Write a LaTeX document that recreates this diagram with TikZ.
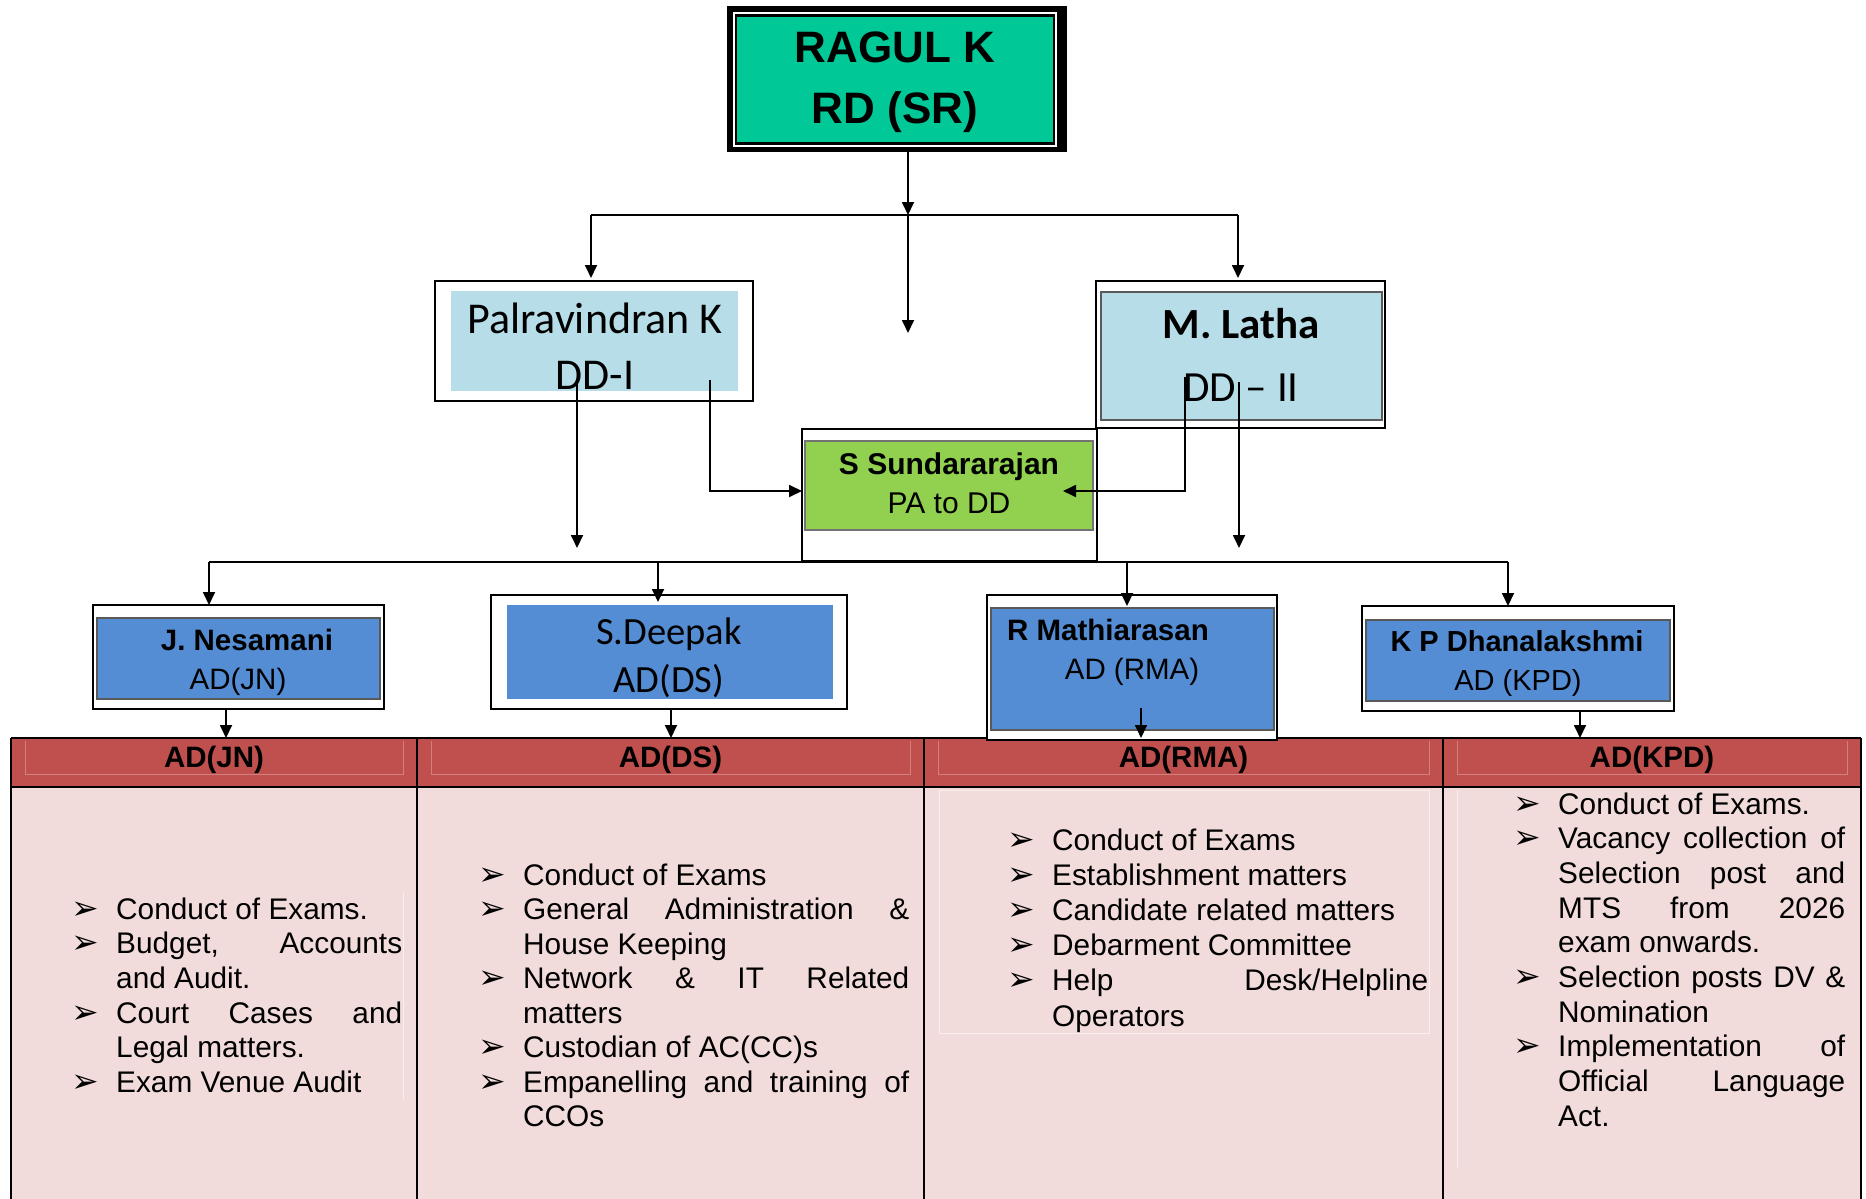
\documentclass[tikz,border=0pt]{standalone}
\usepackage{fontspec}
\setmainfont{Liberation Sans}
\newfontfamily\calfont{Carlito}
\newfontfamily\dvfont{DejaVu Sans}
\usetikzlibrary{arrows.meta}
\definecolor{rdteal}{RGB}{0,200,150}
\definecolor{ddblue}{RGB}{183,221,232}
\definecolor{pagreen}{RGB}{146,208,80}
\definecolor{adblue}{RGB}{84,141,212}
\definecolor{hdred}{RGB}{192,80,77}
\definecolor{bodypink}{RGB}{242,220,219}
\newcommand\rectnode[6]{\node[#1, inner sep=0pt, outer sep=0pt, minimum width={(#5-#3)*1pt}, minimum height={(#6-#4)*1pt}] (#2) at ({(#3+#5)/2},{(#4+#6)/2}) {};}
\newcommand\bul{\llap{\makebox[45pt][l]{\dvfont\fontsize{33}{33}\selectfont ➢}}}
\newcommand\jl[2]{\makebox[#1pt][s]{#2}}
\tikzset{
  outerbox/.style={fill=white, draw=black, line width=2.2pt},
  conn/.style={line width=1.8pt, draw=black},
  arr/.style={conn, -{Triangle[length=13pt,width=12pt]}},
  txt/.style={anchor=base, inner sep=0pt},
  rdfont/.style={txt, font=\bfseries\fontsize{44}{44}\selectfont},
  calreg/.style={txt, font=\calfont\fontsize{#1}{#1}\selectfont},
  calbold/.style={txt, font=\calfont\bfseries\fontsize{#1}{#1}\selectfont},
  arbold/.style={txt, font=\bfseries\fontsize{29.5}{30}\selectfont},
  arreg/.style={txt, font=\fontsize{29.5}{30}\selectfont},
  bodytxt/.style={anchor=base west, inner sep=0pt, font=\fontsize{29.8}{34}\selectfont},
  faint/.style={draw=hdred!72!white, line width=0.8pt},
  faintb/.style={draw=white!55!bodypink, line width=0.8pt}
}
\begin{document}
\begin{tikzpicture}[x=1pt,y=-1pt]
\useasboundingbox (0,0) rectangle (1866,1199);
\fill[white] (0,0) rectangle (1866,1199);

% ---------- table ----------
\rectnode{fill=hdred}{hdrow}{11}{738}{1861}{787}
\rectnode{fill=bodypink}{bodyrow}{11}{787}{1861}{1199}
\rectnode{}{cjn}{11}{738}{417}{787}
\rectnode{}{cds}{417}{738}{924}{787}
\rectnode{}{crma}{924}{738}{1443}{787}
\rectnode{}{ckpd}{1443}{738}{1861}{787}
\foreach \cl/\cr in {11/417, 417/924, 924/1443, 1443/1861}{
  \draw[faint] ({\cl+14},741) -- ({\cl+14},774) -- ({\cr-14},774) -- ({\cr-14},741);
}
\draw[faintb] (403,892) -- (403,1100);
\draw[faintb] (939,790) rectangle (1429,1033);
\draw[faintb] (1457,790) -- (1457,1168);
\draw[line width=2.5pt] (11,738) -- (1861,738);
\draw[line width=2.5pt] (11,787) -- (1861,787);
\foreach \cx in {11,417,924,1443,1861}{
  \draw[line width=2pt] (\cx,738) -- (\cx,1199);
}
\node[arbold] (hjn) at (214,767) {AD(JN)};
\node[arbold] (hds) at (670.5,767) {AD(DS)};
\node[arbold] (hrma) at (1183.5,767) {AD(RMA)};
\node[arbold] (hkpd) at (1652,767) {AD(KPD)};

% column 1
\node[bodytxt] (a1) at (116,919) {\bul Conduct of Exams.};
\node[bodytxt] (a2) at (116,953.7) {\bul\jl{286}{Budget, Accounts}};
\node[bodytxt] (a3) at (116,988.4) {and Audit.};
\node[bodytxt] (a4) at (116,1023.1) {\bul\jl{286}{Court Cases and}};
\node[bodytxt] (a5) at (116,1057.8) {Legal matters.};
\node[bodytxt] (a6) at (116,1092.5) {\bul Exam Venue Audit};
% column 2
\node[bodytxt] (b1) at (523,885) {\bul Conduct of Exams};
\node[bodytxt] (b2) at (523,919.5) {\bul\jl{386}{General Administration \&}};
\node[bodytxt] (b3) at (523,954) {House Keeping};
\node[bodytxt] (b4) at (523,988.5) {\bul\jl{386}{Network \& IT Related}};
\node[bodytxt] (b5) at (523,1023) {matters};
\node[bodytxt] (b6) at (523,1057.5) {\bul Custodian of AC(CC)s};
\node[bodytxt] (b7) at (523,1092) {\bul\jl{386}{Empanelling and training of}};
\node[bodytxt] (b8) at (523,1126.5) {CCOs};
% column 3
\node[bodytxt] (c1) at (1052,850) {\bul Conduct of Exams};
\node[bodytxt] (c2) at (1052,885.2) {\bul Establishment matters};
\node[bodytxt] (c3) at (1052,920.4) {\bul Candidate related matters};
\node[bodytxt] (c4) at (1052,955.6) {\bul Debarment Committee};
\node[bodytxt] (c5) at (1052,990.8) {\bul\jl{376}{Help Desk/Helpline}};
\node[bodytxt] (c6) at (1052,1026) {Operators};
% column 4
\node[bodytxt] (e1) at (1558,814) {\bul Conduct of Exams.};
\node[bodytxt] (e2) at (1558,848.7) {\bul\jl{287}{Vacancy collection of}};
\node[bodytxt] (e3) at (1558,883.3) {\jl{287}{Selection post and}};
\node[bodytxt] (e4) at (1558,918) {\jl{287}{MTS from 2026}};
\node[bodytxt] (e5) at (1558,952.7) {exam onwards.};
\node[bodytxt] (e6) at (1558,987.3) {\bul\jl{287}{Selection posts DV \&}};
\node[bodytxt] (e7) at (1558,1022) {Nomination};
\node[bodytxt] (e8) at (1558,1056.7) {\bul\jl{287}{Implementation of}};
\node[bodytxt] (e9) at (1558,1091.3) {\jl{287}{Official Language}};
\node[bodytxt] (e10) at (1558,1126) {Act.};

% ---------- RD box ----------
\rectnode{fill=black}{rdframe}{727}{6}{1067}{152}
\draw[white, line width=1.5pt] (734,13) rectangle (1056,146);
\rectnode{fill=rdteal}{rd}{737}{17}{1053}{142}
\node[rdfont] (rdt1) at (895,63) {RAGUL K};
\node[rdfont] (rdt2) at (895,123) {RD (SR)};

% ---------- DD boxes ----------
\rectnode{outerbox}{palo}{435}{281}{753}{401}
\rectnode{fill=ddblue}{pal}{451}{291}{738}{391}
\node[calreg=44] (palt1) at (595,333) {Palravindran K};
\node[calreg=44] (palt2) at (595,389) {DD-I};

\rectnode{outerbox}{latho}{1096}{281}{1385}{428}
\rectnode{fill=ddblue, draw=black!65, line width=2.5pt}{lath}{1101}{292}{1382}{420}
\node[calbold=43] (latt1) at (1241,338) {M. Latha};
\node[calreg=43] (latt2) at (1241,401) {DD – II};

% ---------- PA box ----------
\rectnode{outerbox}{pao}{802}{429}{1097}{561}
\rectnode{fill=pagreen, draw=black!55, line width=1.5pt}{pa}{805}{441}{1093}{530}
\node[arbold, font=\bfseries\fontsize{30}{30}\selectfont] (pat1) at (949,474) {S Sundararajan};
\node[arreg, font=\fontsize{30}{30}\selectfont] (pat2) at (949,513) {PA to DD};

% ---------- AD boxes ----------
\rectnode{outerbox}{jno}{93}{605}{384}{709}
\rectnode{fill=adblue, draw=black!65, line width=1.5pt}{jn}{97}{618}{380}{699}
\node[arbold] (jnt1) at (247,650) {J. Nesamani};
\node[arreg] (jnt2) at (238,689) {AD(JN)};

\rectnode{outerbox}{dso}{491}{595}{847}{709}
\rectnode{fill=adblue}{ds}{507}{605}{833}{699}
\node[calreg=38.5] (dst1) at (669,644) {S.Deepak};
\node[calreg=38.5] (dst2) at (669,692) {AD(DS)};

\rectnode{outerbox}{rmao}{987}{595}{1277}{740}
\rectnode{fill=adblue, draw=black!65, line width=1.5pt}{rma}{991}{608}{1274}{730}
\node[arbold] (rmat1) at (1108,640) {R Mathiarasan};
\node[arreg] (rmat2) at (1132,679) {AD (RMA)};

\rectnode{outerbox}{kpdo}{1362}{606}{1674}{711}
\rectnode{fill=adblue, draw=black!65, line width=1.5pt}{kpd}{1366}{620}{1670}{701}
\node[arbold, font=\bfseries\fontsize{29}{30}\selectfont] (kpdt1) at (1517,651) {K P Dhanalakshmi};
\node[arreg, font=\fontsize{29}{30}\selectfont] (kpdt2) at (1518,690) {AD (KPD)};

% ---------- connectors ----------
\coordinate (jtop) at (908,215);
\coordinate (busL) at (591,215);
\coordinate (busR) at (1238,215);
\coordinate (mid) at (908,333);
\draw[arr] (rdframe.south -| jtop) -- (jtop);
\draw[conn] (busL) -- (busR);
\draw[arr, shorten >=3pt] (busL) -- (busL |- palo.north);
\draw[arr, shorten >=3pt] (busR) -- (busR |- latho.north);
\draw[arr] (jtop) -- (mid);

\coordinate (p1) at (577,380);
\coordinate (p1e) at (577,548);
\coordinate (p2) at (710,380);
\coordinate (paL) at (802,491);
\coordinate (l1) at (1185,377);
\coordinate (paR) at (1063,491);
\coordinate (l2) at (1239,382);
\coordinate (l2e) at (1239,548);
\draw[arr] (p1) -- (p1e);
\draw[arr] (p2) |- (paL);
\draw[arr] (l1) |- (paR);
\draw[arr] (l2) -- (l2e);

\coordinate (d1) at (209,562);
\coordinate (d2) at (658,562);
\coordinate (d3) at (1127,562);
\coordinate (d4) at (1508,562);
\draw[conn] (d1) -- (d4);
\draw[arr] (d1) -- (d1 |- jno.north);
\draw[arr] (d2) -- (658,602);
\draw[arr] (d3) -- (1127,606);
\draw[arr] (d4) -- (d4 |- kpdo.north);

\draw[arr] (jno.south -| 226,0) -- (cjn.north -| 226,0);
\draw[arr] (dso.south -| 671,0) -- (cds.north -| 671,0);
\coordinate (rmaarr) at (1141,708);
\draw[arr] (rmaarr) -- (rmaarr |- crma.north);
\draw[arr] (kpdo.south -| 1580,0) -- (ckpd.north -| 1580,0);
\end{tikzpicture}
\end{document}
